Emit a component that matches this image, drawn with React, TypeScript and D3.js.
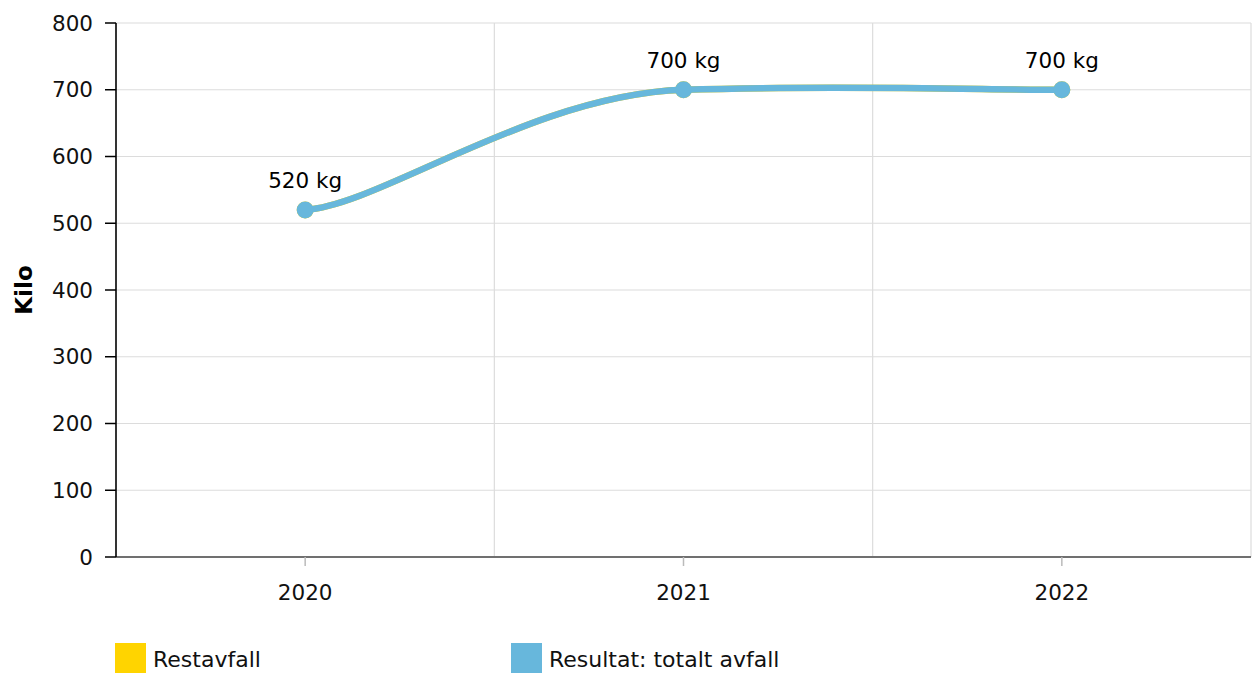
import * as d3 from "d3";

const years = ["2020", "2021", "2022"];
const restavfall = [520, 700, 700];
const totaltAvfall = [520, 700, 700];
const yTicks = [0, 100, 200, 300, 400, 500, 600, 700, 800];
const seriesNames = ["Restavfall", "Resultat: totalt avfall"];
const seriesColors = ["#ffd400", "#67b7dc"];

// tension spline: control points from neighbours, x and y tension separately
function curveTension(tx: number, ty: number) {
  return (context: any) => {
    let pts: [number, number][] = [];
    return {
      areaStart() {},
      areaEnd() {},
      lineStart() {
        pts = [];
      },
      point(x: number, y: number) {
        pts.push([+x, +y]);
      },
      lineEnd() {
        if (!pts.length) return;
        context.moveTo(pts[0][0], pts[0][1]);
        for (let i = 0; i < pts.length - 1; i++) {
          const p1 = pts[i];
          const p2 = pts[i + 1];
          const p0 = pts[i - 1] ?? p1;
          const p3 = pts[i + 2] ?? p2;
          context.bezierCurveTo(
            p1[0] + (p2[0] - p0[0]) * tx,
            p1[1] + (p2[1] - p0[1]) * ty,
            p2[0] - (p3[0] - p1[0]) * tx,
            p2[1] - (p3[1] - p1[1]) * ty,
            p2[0],
            p2[1]
          );
        }
      },
    };
  };
}

function LineChart({
  width = 1253,
  height = 673,
  marginTop = 23,
  marginRight = 2,
  marginBottom = 116,
  marginLeft = 116,
}) {
  const x = d3
    .scaleBand()
    .domain(years)
    .range([marginLeft, width - marginRight])
    .padding(0);
  const y = d3
    .scaleLinear()
    .domain([0, 800])
    .range([height - marginBottom, marginTop]);
  const cx = (d: string) => (x(d) ?? 0) + x.bandwidth() / 2;
  const line = d3
    .line<number>()
    .x((_, i) => cx(years[i]))
    .y(d => y(d))
    .curve(curveTension(0.2, 0.04) as any);
  const font = "'DejaVu Sans', Verdana, sans-serif";
  const bottom = y(0);
  const series = [restavfall, totaltAvfall];
  const fs = 21.5;

  return (
    <svg
      width={width}
      height={height}
      style={{ position: "absolute", left: 0, top: 0, fontFamily: font }}
    >
      {/* horizontal grid */}
      <g stroke="#dcdcdc" strokeWidth={1.2}>
        {yTicks.map(t => (
          <line key={t} x1={marginLeft} x2={width - marginRight} y1={y(t)} y2={y(t)} />
        ))}
      </g>
      {/* vertical grid at band edges */}
      <g stroke="#dcdcdc" strokeWidth={1.2}>
        {years.slice(1).map(d => (
          <line key={d} x1={x(d)} x2={x(d)} y1={marginTop} y2={bottom} />
        ))}
        <line x1={width - marginRight} x2={width - marginRight} y1={marginTop} y2={bottom} />
      </g>
      {/* x axis */}
      <line x1={marginLeft} x2={width - marginRight} y1={bottom} y2={bottom} stroke="#707070" strokeWidth={2} />
      <g>
        {years.map(d => (
          <g key={d}>
            <line x1={cx(d)} x2={cx(d)} y1={bottom} y2={bottom + 9} stroke="#bbbbbb" strokeWidth={1.5} />
            <text x={cx(d)} y={600} textAnchor="middle" fontSize={fs} fill="#111">
              {d}
            </text>
          </g>
        ))}
      </g>
      {/* y axis */}
      <line x1={marginLeft} x2={marginLeft} y1={marginTop} y2={bottom} stroke="#000" strokeWidth={1.6} />
      <g>
        {yTicks.map(t => (
          <g key={t}>
            <line x1={105} x2={marginLeft} y1={y(t)} y2={y(t)} stroke="#000" strokeWidth={1.5} />
            <text x={93} y={y(t)} dy="0.36em" textAnchor="end" fontSize={fs} fill="#111">
              {t}
            </text>
          </g>
        ))}
      </g>
      <text
        transform={`translate(32, ${(marginTop + bottom) / 2}) rotate(-90)`}
        textAnchor="middle"
        fontSize={23}
        fontWeight="bold"
        fill="#000"
      >
        Kilo
      </text>
      {/* series */}
      {series.map((data, si) => (
        <g key={si}>
          <path
            d={line(data) ?? undefined}
            fill="none"
            stroke={seriesColors[si]}
            strokeWidth={6.5}
            strokeLinecap="round"
          />
          {data.map((v, i) => (
            <circle key={i} cx={cx(years[i])} cy={y(v)} r={8.5} fill={seriesColors[si]} />
          ))}
        </g>
      ))}
      {/* value labels */}
      <g>
        {totaltAvfall.map((v, i) => (
          <text key={i} x={cx(years[i])} y={y(v) - 22} textAnchor="middle" fontSize={fs} fill="#000">
            {v} kg
          </text>
        ))}
      </g>
      {/* legend */}
      <g>
        {seriesNames.map((n, i) => {
          const lx = i === 0 ? 115 : 511;
          return (
            <g key={n}>
              <rect x={lx} y={643} width={31} height={31} fill={seriesColors[i]} />
              <text x={lx + 38} y={667} fontSize={22} fill="#111">
                {n}
              </text>
            </g>
          );
        })}
      </g>
    </svg>
  );
}

export default function App() {
  return (
    <div>
      <LineChart />
    </div>
  );
}
